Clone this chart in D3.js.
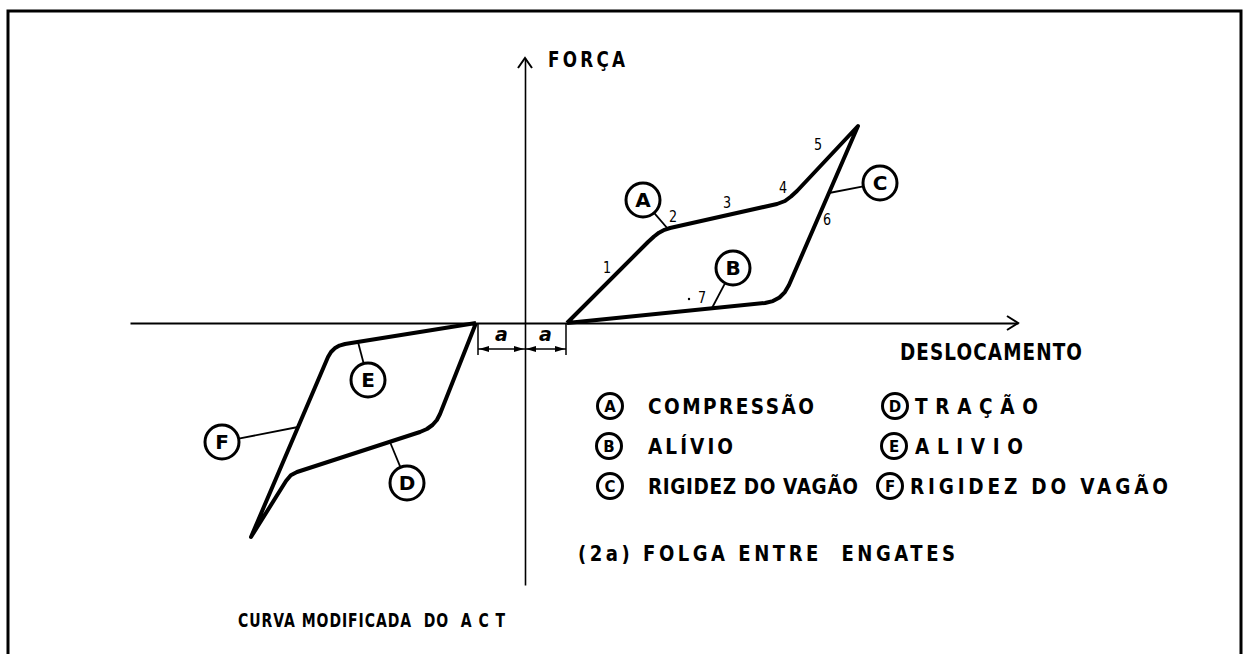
<!DOCTYPE html>
<html>
<head>
<meta charset="utf-8">
<script src="https://cdn.jsdelivr.net/npm/d3@7"></script>
<style>
  html, body { margin: 0; padding: 0; background: #fff; }
  svg { display: block; }
  text { font-family: 'DejaVu Sans', 'Liberation Sans', sans-serif; fill: #000; white-space: pre; }
</style>
</head>
<body>
<svg id="chart"></svg>
<script>
// compression loop (displacement, force) - loading 1..5 then unloading 6, 7
const compX = [4.2, 12.3, 12.9, 13.4, 13.95, 14.5, 25.2, 26.0, 26.6, 27.2, 33.3, 26.4, 25.99, 25.45, 24.79, 24.0, 4.2];
const compY = [0, 8.1, 8.65, 9.03, 9.32, 9.5, 11.9, 12.2, 12.65, 13.2, 19.7, 3.8, 3.09, 2.55, 2.19, 2.0, 0];
// tension loop
const tracX = [-4.9, -18.0, -18.55, -19.03, -19.4, -19.7, -27.4, -23.9, -23.42, -22.8, -10.5, -9.81, -9.25, -8.81, -8.5, -4.9];
const tracY = [0, -2.1, -2.26, -2.53, -2.9, -3.4, -21.4, -15.8, -15.23, -14.9, -10.9, -10.6, -10.2, -9.7, -9.1, 0];

// lettered callouts on the curves
const calloutNames = ['A', 'B', 'C', 'D', 'E', 'F'];
const calloutX = [11.8, 20.8, 35.5, -11.8, -15.7, -30.3];
const calloutY = [12.3, 5.5, 14.0, -16.0, -5.7, -11.9];
const targetX = [14.3, 18.7, 30.4, -13.5, -16.7, -22.7];
const targetY = [9.4, 1.5, 13.0, -11.9, -1.9, -10.4];

// numbered stages along the compression curve
const stepLabels = ['1', '2', '3', '4', '5', '6', '7'];
const stepX = [8.2, 14.8, 20.2, 25.8, 29.3, 30.2, 17.7];
const stepY = [5.5, 10.6, 12.0, 13.5, 17.8, 10.3, 2.5];

// slack between couplers (a on each side of the origin)
const gapX = [-4.7, 0, 4.1];

const legendKeys = ['A', 'B', 'C', 'D', 'E', 'F'];
const legendTexts = ['COMPRESSÃO', 'ALÍVIO', 'RIGIDEZ DO VAGÃO', 'TRAÇÃO', 'ALIVIO', 'RIGIDEZ DO VAGÃO'];

const width = 1244, height = 654;
const svg = d3.select('#chart').attr('width', width).attr('height', height);

// axis extents
const xScale = d3.scaleLinear().domain([-39.5, 49.3]).range([130, 1018]);
const yScale = d3.scaleLinear().domain([-26.2, 26.5]).range([585, 58]);

// condensed lettering: squeeze glyphs horizontally, then stretch spacing to width w
const label = (x, y, str, size, w, sx) => {
  return svg.append('text')
    .attr('transform', 'translate(' + x + ',' + y + ') scale(' + sx + ',1)')
    .attr('font-size', size)
    .attr('font-weight', 'bold')
    .attr('textLength', w / sx)
    .attr('lengthAdjust', 'spacing')
    .text(str);
};

// frame (bottom edge falls outside the picture)
svg.append('path')
  .attr('d', 'M8,670V11H1241V670')
  .attr('fill', 'none')
  .attr('stroke', '#000')
  .attr('stroke-width', 3);

// axes
const xAxis = d3.axisBottom(xScale).ticks(0).tickSizeOuter(0);
const yAxis = d3.axisLeft(yScale).ticks(0).tickSizeOuter(0);
const gx = svg.append('g').attr('transform', 'translate(0,' + yScale(0) + ')').call(xAxis);
const gy = svg.append('g').attr('transform', 'translate(' + xScale(0) + ',0)').call(yAxis);
gx.select('.domain').attr('stroke-width', 2);
gy.select('.domain').attr('stroke-width', 1.6);

// arrowheads
const xEnd = xScale.range()[1], yEnd = yScale.range()[1];
svg.append('path')
  .attr('d', 'M' + (xEnd - 11) + ',' + (yScale(0) - 7) + 'L' + xEnd + ',' + yScale(0) + 'L' + (xEnd - 11) + ',' + (yScale(0) + 7))
  .attr('fill', 'none').attr('stroke', '#000').attr('stroke-width', 2);
svg.append('path')
  .attr('d', 'M' + (xScale(0) - 7) + ',' + (yEnd + 10) + 'L' + xScale(0) + ',' + yEnd + 'L' + (xScale(0) + 7) + ',' + (yEnd + 10))
  .attr('fill', 'none').attr('stroke', '#000').attr('stroke-width', 2);

label(548, 67, 'FORÇA', 21, 77, 0.8);
label(900, 360, 'DESLOCAMENTO', 23, 182, 0.8);

// curves
const line = d3.line().x((d) => xScale(d[0])).y((d) => yScale(d[1]));
const compData = compX.map((x, i) => [x, compY[i]]);
const tracData = tracX.map((x, i) => [x, tracY[i]]);
[compData, tracData].forEach((data) => {
  svg.append('path')
    .attr('d', line(data))
    .attr('fill', 'none')
    .attr('stroke', '#000')
    .attr('stroke-width', 4)
    .attr('stroke-linejoin', 'round');
});

// callouts
const r = 17;
calloutNames.forEach((name, i) => {
  const cx = xScale(calloutX[i]), cy = yScale(calloutY[i]);
  const tx = xScale(targetX[i]), ty = yScale(targetY[i]);
  const ang = Math.atan2(ty - cy, tx - cx);
  svg.append('line')
    .attr('x1', cx + r * Math.cos(ang)).attr('y1', cy + r * Math.sin(ang))
    .attr('x2', tx).attr('y2', ty)
    .attr('stroke', '#000').attr('stroke-width', 1.8);
  svg.append('circle').attr('cx', cx).attr('cy', cy).attr('r', r)
    .attr('fill', '#fff').attr('stroke', '#000').attr('stroke-width', 3);
  svg.append('text').attr('x', cx).attr('y', cy + 7).attr('text-anchor', 'middle')
    .attr('font-size', 20).attr('font-weight', 'bold').text(name);
});

// stage numbers
stepLabels.forEach((s, i) => {
  svg.append('text').attr('x', xScale(stepX[i])).attr('y', yScale(stepY[i]) + 5)
    .attr('text-anchor', 'middle').attr('font-size', 15)
    .attr('transform', 'translate(' + (xScale(stepX[i]) * 0.15) + ',0) scale(0.85,1)')
    .text(s);
});
svg.append('circle').attr('cx', xScale(16.4)).attr('cy', yScale(2.4)).attr('r', 1.2).attr('fill', '#000');

// gap dimension
const dimY = yScale(-2.6);
gapX.forEach((x, i) => {
  if (i !== 1) {
    svg.append('line').attr('x1', xScale(x)).attr('x2', xScale(x))
      .attr('y1', yScale(0)).attr('y2', dimY + 6)
      .attr('stroke', '#000').attr('stroke-width', 1.5);
  }
});
svg.append('line').attr('x1', xScale(gapX[0])).attr('x2', xScale(gapX[2]))
  .attr('y1', dimY).attr('y2', dimY).attr('stroke', '#000').attr('stroke-width', 1.5);
const arrowHead = (x, dir) => {
  svg.append('path')
    .attr('d', 'M' + x + ',' + dimY + 'L' + (x + dir * 10) + ',' + (dimY - 3) + 'L' + (x + dir * 10) + ',' + (dimY + 3) + 'Z')
    .attr('fill', '#000');
};
arrowHead(xScale(gapX[0]) + 1, 1);
arrowHead(xScale(gapX[1]) - 1, -1);
arrowHead(xScale(gapX[1]) + 1, 1);
arrowHead(xScale(gapX[2]) - 1, -1);
[0, 1].forEach((i) => {
  svg.append('text')
    .attr('x', (xScale(gapX[i]) + xScale(gapX[i + 1])) / 2)
    .attr('y', yScale(-1.8))
    .attr('text-anchor', 'middle')
    .attr('font-size', 19).attr('font-weight', 'bold').attr('font-style', 'italic')
    .text('a');
});

// legend
const legendPos = [
  { cx: 610, tx: 648, y: 414, w: 166 },
  { cx: 609, tx: 648, y: 454, w: 85 },
  { cx: 610, tx: 648, y: 494, w: 210 },
  { cx: 895, tx: 915, y: 414, w: 123 },
  { cx: 894, tx: 915, y: 454, w: 108 },
  { cx: 890, tx: 910, y: 494, w: 258 }
];
legendKeys.forEach((k, i) => {
  const p = legendPos[i];
  svg.append('circle').attr('cx', p.cx).attr('cy', p.y - 8).attr('r', 12.5)
    .attr('fill', '#fff').attr('stroke', '#000').attr('stroke-width', 3);
  svg.append('text').attr('x', p.cx).attr('y', p.y - 2.5).attr('text-anchor', 'middle')
    .attr('font-size', 15).attr('font-weight', 'bold').text(k);
  label(p.tx, p.y, legendTexts[i], 21, p.w, 0.88);
});

label(578, 561, '(2a) FOLGA ENTRE  ENGATES', 21, 377, 0.86);
label(238, 627, 'CURVA MODIFICADA  DO  A C T', 20, 267, 0.7);
</script>
</body>
</html>
